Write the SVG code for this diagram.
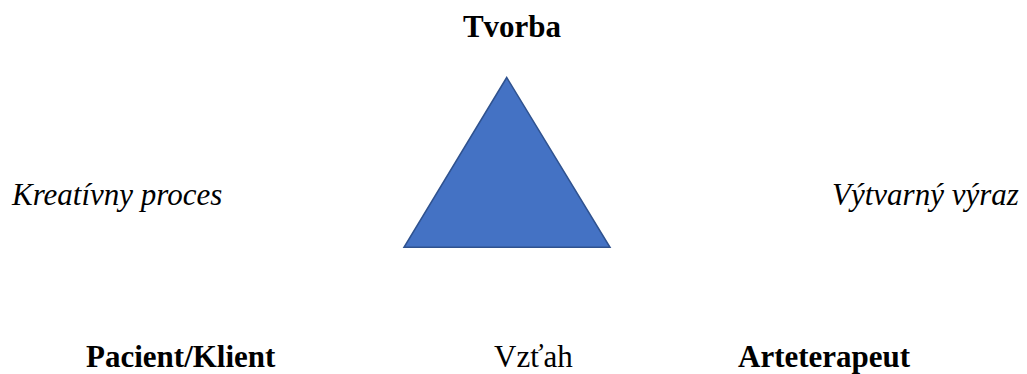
<svg xmlns="http://www.w3.org/2000/svg" width="1027" height="374" viewBox="0 0 1027 374">
<style>
text{font-family:"Liberation Serif","Times New Roman",Tinos,"DejaVu Serif",serif;font-size:31px;fill:#000}
.b{font-weight:bold}
.i{font-style:italic}
</style>
<rect width="1027" height="374" fill="#fff"/>
<g id="triangle">
<polygon points="506.7,77.5 404,247.3 610,247.3" fill="#4472C4" stroke="#2F528F" stroke-width="1.5"/>
</g>
<g id="tvorba"><text class="b" x="512" y="37" text-anchor="middle">Tvorba</text></g>
<g id="kreativny"><text class="i" x="12" y="205">Kreatívny proces</text></g>
<g id="vytvarny"><text class="i" x="832" y="205">Výtvarný výraz</text></g>
<g id="pacient"><text class="b" x="86" y="367">Pacient/Klient</text></g>
<g id="vztah"><text x="494" y="367">Vzťah</text></g>
<g id="arteterapeut"><text class="b" x="738" y="367">Arteterapeut</text></g>
<g id="connectors"></g>
</svg>
